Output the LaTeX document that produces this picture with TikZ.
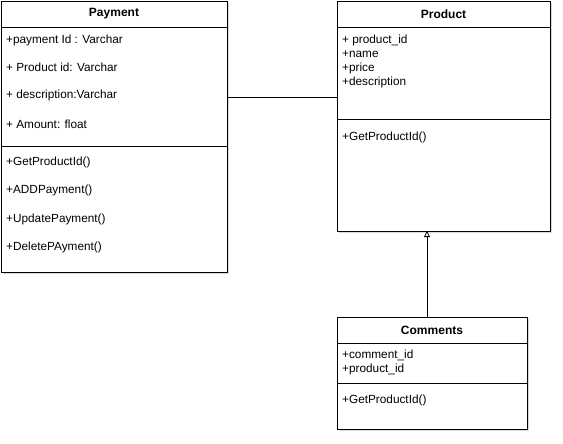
\documentclass[tikz,border=0pt]{standalone}
\usepackage{fontspec}
\setmainfont{Liberation Sans}
\usetikzlibrary{arrows.meta,shadows}
\begin{document}
\begin{tikzpicture}[x=1pt,y=-1pt,
  box/.style={draw=black, line width=0.9pt, fill=white, inner sep=0pt, outer sep=0pt,
    drop shadow={shadow xshift=2pt, shadow yshift=-2pt, opacity=0.25, fill=black!60}},
  title/.style={font=\fontsize{12}{14}\selectfont\bfseries, inner sep=0pt},
  txt/.style={font=\fontsize{11.8}{14}\selectfont, anchor=west, inner sep=0pt},
  sep/.style={line width=0.9pt},
  conn/.style={line width=0.8pt},
  inherit/.style={line width=0.8pt, -{Triangle[open, length=6pt, width=6pt]}}]
\useasboundingbox (0,0) rectangle (563,444);
% Payment
\node[box, minimum width=226pt, minimum height=271pt] (payment) at (114,136.5) {};
\node[title] (paytitle) at (114,14) {Payment};
\draw[sep] (payment.west |- 0,27) -- (payment.east |- 0,27);
\draw[sep] (payment.west |- 0,146) -- (payment.east |- 0,146);
\node[txt] (p1) at (6,40) {+payment Id : Varchar};
\node[txt] (p2) at (6,67) {+ Product id: Varchar};
\node[txt] (p3) at (6,95) {+ description:Varchar};
\node[txt] (p4) at (6,124) {+ Amount: float};
\node[txt] (pm1) at (6,162) {+GetProductId()};
\node[txt] (pm2) at (6,190) {+ADDPayment()};
\node[txt] (pm3) at (6,219) {+UpdatePayment()};
\node[txt] (pm4) at (6,247) {+DeletePAyment()};
% Product
\node[box, minimum width=213pt, minimum height=230pt] (product) at (443.5,116) {};
\node[title] (prodtitle) at (443.5,14) {Product};
\draw[sep] (product.west |- 0,27) -- (product.east |- 0,27);
\draw[sep] (product.west |- 0,119) -- (product.east |- 0,119);
\node[txt] (r1) at (342,40) {+ product\_id};
\node[txt] (r2) at (342,54) {+name};
\node[txt] (r3) at (342,68) {+price};
\node[txt] (r4) at (342,82) {+description};
\node[txt] (rm1) at (342,137) {+GetProductId()};
% Comments
\node[box, minimum width=190pt, minimum height=112pt] (comments) at (432,373) {};
\node[title] (comtitle) at (432,330) {Comments};
\draw[sep] (comments.west |- 0,343) -- (comments.east |- 0,343);
\draw[sep] (comments.west |- 0,383) -- (comments.east |- 0,383);
\node[txt] (c1) at (342,355) {+comment\_id};
\node[txt] (c2) at (342,369) {+product\_id};
\node[txt] (cm1) at (342,400) {+GetProductId()};
% connectors
\draw[conn] (payment.east |- 0,97) -- (product.west |- 0,97);
\draw[inherit] (comments.north -| 427,0) -- (product.south -| 427,0);
\end{tikzpicture}
\end{document}
